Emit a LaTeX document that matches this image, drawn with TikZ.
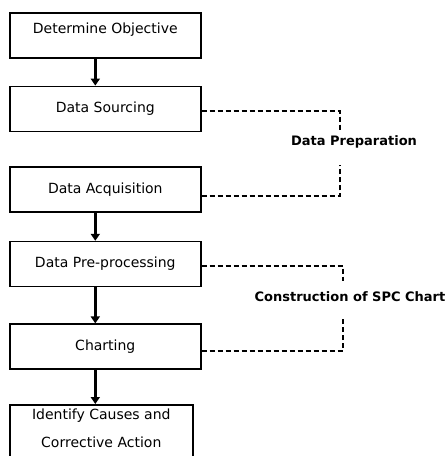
\documentclass[tikz,border=0pt]{standalone}
\usepackage{fontspec}
\setmainfont{DejaVu Sans}
\usetikzlibrary{arrows.meta,positioning}

\begin{document}
\begin{tikzpicture}[
    x=1pt, y=-1pt,
    node distance=27pt,
    box/.style={rectangle, draw, line width=1.6pt, minimum width=191pt, minimum height=45pt, align=center, font=\fontsize{14}{20}\selectfont},
    arrow/.style={-{Triangle[width=9pt,length=7pt]}, line width=2.4pt},
    link/.style={dash pattern=on 5pt off 3pt, line width=1.6pt},
    phase/.style={font=\bfseries\fontsize{13}{15}\selectfont}
]
\useasboundingbox (0,0) rectangle (445,456);
\node[box, anchor=north west, text depth=14pt] (objective) at (9,12) {Determine Objective};
\node[box, below=27pt of objective] (sourcing) {Data Sourcing};
\node[box, below=34pt of sourcing] (acquisition) {Data Acquisition};
\node[box, below=28pt of acquisition] (preproc) {Data Pre-processing};
\node[box, below=36pt of preproc] (charting) {Charting};
\node[box, below=34pt of charting, minimum height=58pt, minimum width=183pt, xshift=-4pt,
      font=\fontsize{14}{28}\selectfont, text height=28pt, text depth=0pt] (causes) {Identify Causes and\\Corrective Action};

\draw[arrow] ([xshift=-10pt]objective.south) -- ([xshift=-10pt]sourcing.north);
\draw[arrow] ([xshift=-10pt]acquisition.south) -- ([xshift=-10pt]preproc.north);
\draw[arrow] ([xshift=-10pt]preproc.south) -- ([xshift=-10pt]charting.north);
\draw[arrow] ([xshift=-10pt]charting.south) -- ([xshift=-10pt]charting.south |- causes.north);

% phase brackets
\coordinate (prepTop) at (340,130);
\coordinate (prepBot) at (340,165);
\draw[link] ([yshift=-2pt]sourcing.east) -| (prepTop);
\draw[link] ([yshift=-6.5pt]acquisition.east) -| (prepBot);
\node[phase] (prep) at (354,142) {Data Preparation};

\coordinate (spcTop) at (343,281);
\coordinate (spcBot) at (343,319);
\draw[link] ([yshift=-2pt]preproc.east) -| (spcTop);
\draw[link] ([yshift=-4pt]charting.east) -| (spcBot);
\node[phase] (spc) at (350,297) {Construction of SPC Chart};
\end{tikzpicture}
\end{document}
